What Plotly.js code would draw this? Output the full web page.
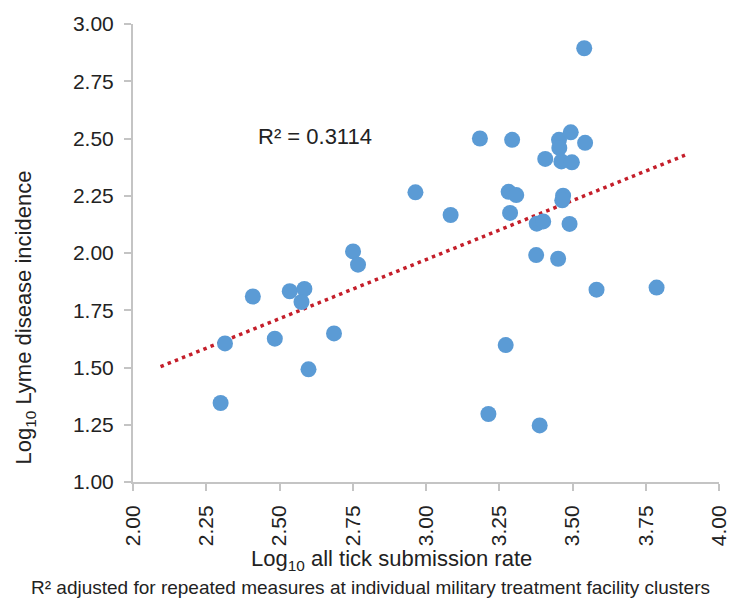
<!DOCTYPE html>
<html>
<head>
<meta charset="utf-8">
<script src="https://cdn.plot.ly/plotly-3.0.1.min.js"></script>
<style>html,body{margin:0;padding:0;background:#fff;}#chart{width:739px;height:600px;}</style>
</head>
<body>
<div id="chart"></div>
<script>
// Log10 all tick submission rate (x) and Log10 Lyme disease incidence (y)
var tickRate = [3.540, 3.184, 3.294, 3.454, 3.494, 3.543, 3.455, 3.407, 3.462, 3.498,
                2.964, 3.282, 3.308, 3.468, 3.465, 3.084, 3.287, 3.378, 3.400, 3.490,
                3.376, 3.451, 2.751, 2.768, 2.409, 2.535, 2.585, 2.575, 3.582, 3.787,
                2.314, 2.484, 2.686, 3.272, 2.599, 2.299, 3.213, 3.388];
var lymeIncidence = [2.894, 2.500, 2.494, 2.494, 2.527, 2.481, 2.459, 2.411, 2.400, 2.396,
                2.265, 2.267, 2.253, 2.250, 2.230, 2.166, 2.175, 2.128, 2.138, 2.127,
                1.991, 1.975, 2.007, 1.949, 1.810, 1.833, 1.843, 1.786, 1.840, 1.849,
                1.605, 1.626, 1.649, 1.598, 1.492, 1.345, 1.297, 1.247];
// Linear trendline ends as drawn
var trendX = [2.094, 3.884];
var trendY = [1.504, 2.427];
var rSquaredLabel = "R² = 0.3114";
var xTitle = "Log<sub>10</sub> all tick submission rate";
var yTitle = "Log<sub>10</sub> Lyme disease incidence";
var footnote = "R² adjusted for repeated measures at individual military treatment facility clusters";

var FONT = "Liberation Sans, Arial, Helvetica, sans-serif";
var AX = "#c4c4c4";
var TXT = "#222222";

var traces = [
  {
    x: trendX, y: trendY, type: "scatter", mode: "lines",
    line: {color: "#C41E2A", width: 3.5, dash: "3.5px,4.2px"},
    hoverinfo: "skip", showlegend: false
  },
  {
    x: tickRate, y: lymeIncidence, type: "scatter", mode: "markers",
    marker: {size: 16, color: "#5B9BD5", line: {width: 0}},
    showlegend: false
  }
];

var axisBase = {
  showgrid: false, zeroline: false,
  tickcolor: AX, tickwidth: 2, ticklen: 7
};

var layout = {
  width: 739, height: 600,
  margin: {l: 133, r: 20, t: 24, b: 118, pad: 0},
  paper_bgcolor: "#ffffff", plot_bgcolor: "#ffffff",
  font: {family: FONT, color: TXT, size: 21},
  showlegend: false,
  xaxis: Object.assign({}, axisBase, {
    range: [2, 4], tick0: 2, dtick: 0.25, tickformat: ".2f",
    ticks: "outside", tickangle: -90, showline: true, linecolor: AX, linewidth: 2,
    tickfont: {family: FONT, size: 21, color: TXT}, ticklabelstandoff: 6
  }),
  xaxis2: Object.assign({}, axisBase, {
    range: [2, 4], tick0: 2, dtick: 0.25, overlaying: "x", anchor: "y", side: "bottom",
    ticks: "inside", showticklabels: false, showline: false
  }),
  yaxis: Object.assign({}, axisBase, {
    range: [1, 3], tick0: 1, dtick: 0.25, tickformat: ".2f",
    ticks: "outside", showline: true, linecolor: AX, linewidth: 2,
    tickfont: {family: FONT, size: 21, color: TXT}, ticklabelstandoff: 6
  }),
  yaxis2: Object.assign({}, axisBase, {
    range: [1, 3], tick0: 1, dtick: 0.25, overlaying: "y", anchor: "x", side: "left",
    ticks: "inside", showticklabels: false, showline: false
  }),
  annotations: [
    {text: rSquaredLabel, xref: "x", yref: "y", x: 2.62, y: 2.51, showarrow: false,
     xanchor: "center", yanchor: "middle", font: {family: FONT, size: 22, color: TXT}},
    {text: xTitle, xref: "paper", yref: "paper", x: 0.441, y: -0.170, showarrow: false,
     xanchor: "center", yanchor: "middle", font: {family: FONT, size: 22, color: TXT}},
    {text: yTitle, xref: "paper", yref: "paper", x: -0.1836, y: 0.36, showarrow: false,
     textangle: -90, xanchor: "center", yanchor: "middle", font: {family: FONT, size: 22, color: TXT}},
    {text: footnote, xref: "paper", yref: "paper", x: 0.406, y: -0.231, showarrow: false,
     xanchor: "center", yanchor: "middle", font: {family: FONT, size: 19, color: TXT}}
  ]
};

Plotly.newPlot("chart", traces, layout, {displayModeBar: false, staticPlot: true});
</script>
</body>
</html>
